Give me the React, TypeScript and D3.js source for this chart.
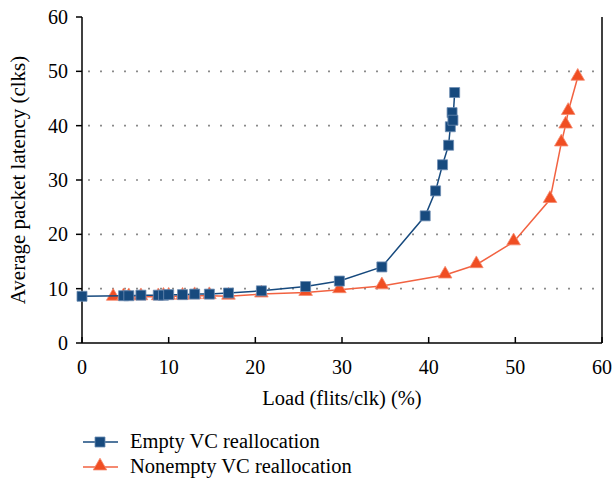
import React from "react";
import * as d3 from "d3";

// Empty VC reallocation
const emptyLoad = [0, 4.8, 5.4, 6.8, 8.8, 9.4, 10.0, 11.6, 13.0, 14.7, 16.9, 20.7, 25.8, 29.7, 34.6, 39.6, 40.8, 41.6, 42.3, 42.5, 42.7, 42.8, 43.0];
const emptyLatency = [8.6, 8.7, 8.7, 8.8, 8.8, 8.8, 8.9, 8.9, 9.0, 9.0, 9.2, 9.6, 10.4, 11.4, 14.0, 23.4, 28.0, 32.8, 36.4, 39.8, 42.4, 41.0, 46.1];

// Nonempty VC reallocation
const nonemptyLoad = [3.6, 4.8, 5.4, 6.8, 8.8, 9.4, 10.0, 11.6, 13.0, 14.7, 16.9, 20.7, 25.8, 29.7, 34.6, 41.9, 45.5, 49.8, 54.0, 55.3, 55.8, 56.1, 57.2];
const nonemptyLatency = [8.4, 8.5, 8.5, 8.5, 8.5, 8.6, 8.6, 8.6, 8.7, 8.7, 8.6, 9.0, 9.3, 9.8, 10.5, 12.5, 14.4, 18.6, 26.4, 36.8, 40.1, 42.6, 48.9];

const xTicks = [0, 10, 20, 30, 40, 50, 60];
const yTicks = [0, 10, 20, 30, 40, 50, 60];
const gridTicks = [10, 20, 30, 40, 50];

const seriesNames = ["Empty VC reallocation", "Nonempty VC reallocation"];

const BLUE = "#174a7e";
const BLUE_EDGE = "#6d8db3";
const RED = "#f04e23";
const RED_LINE = "#f26241";
const FONT = "'Liberation Serif', 'Times New Roman', serif";

const W = 613;
const H = 479;
const M = { left: 82, right: 11, top: 17, bottom: 136 };

export default function App() {
  const x = d3.scaleLinear().domain([0, 60]).range([M.left, W - M.right]);
  const y = d3.scaleLinear().domain([0, 60]).range([H - M.bottom, M.top]);

  const toPts = (xs: number[], ys: number[]) => xs.map((v, i) => [v, ys[i]] as [number, number]);
  const empty = toPts(emptyLoad, emptyLatency);
  const nonempty = toPts(nonemptyLoad, nonemptyLatency);

  const line = d3.line<[number, number]>().x((d) => x(d[0])).y((d) => y(d[1]));
  const square = d3.symbol().type(d3.symbolSquare).size(100)() as string;
  const tri = d3.symbol().type(d3.symbolTriangle).size(80)() as string;

  const x0 = x(0), x1 = x(60), yb = y(0), yt = y(60);

  return (
    <svg width={W} height={H} style={{ position: "absolute", left: 0, top: 0, background: "#fff" }} fontFamily={FONT}>
      {/* dotted grid */}
      {gridTicks.map((t) => (
        <line key={"g" + t} x1={x0 + 6} x2={x1} y1={y(t)} y2={y(t)} stroke="#8a8a8a" strokeWidth={1.6} strokeDasharray="2,10" />
      ))}

      {/* axes */}
      <line x1={x0} x2={x0} y1={yt} y2={yb} stroke="#000" strokeWidth={1.5} />
      <line x1={x1} x2={x1} y1={yt} y2={yb} stroke="#000" strokeWidth={1.5} />
      <line x1={x0} x2={x1} y1={yb} y2={yb} stroke="#000" strokeWidth={1.5} />
      {yTicks.map((t) => (
        <g key={"y" + t}>
          <line x1={x0 - 6} x2={x0} y1={y(t)} y2={y(t)} stroke="#000" strokeWidth={1.5} />
          <text x={x0 - 14} y={y(t)} dy="0.35em" textAnchor="end" fontSize={20}>{t}</text>
        </g>
      ))}
      {xTicks.map((t) => (
        <g key={"x" + t}>
          <line x1={x(t)} x2={x(t)} y1={yb} y2={yb - 6} stroke="#000" strokeWidth={1.5} />
          <text x={x(t)} y={yb + 31} textAnchor="middle" fontSize={20}>{t}</text>
        </g>
      ))}

      <text x={(x0 + x1) / 2} y={405} textAnchor="middle" fontSize={20.5}>Load (flits/clk) (%)</text>
      <text transform={`translate(25,${(yt + yb) / 2}) rotate(-90)`} textAnchor="middle" fontSize={21}>
        Average packet latency (clks)
      </text>

      {/* nonempty series */}
      <path d={line(nonempty) || ""} fill="none" stroke={RED_LINE} strokeWidth={1.5} />
      {nonempty.map((d, i) => (
        <path key={"r" + i} d={tri} transform={`translate(${x(d[0])},${y(d[1]) - 1})`} fill={RED} stroke="#f58a70" strokeWidth={0.8} />
      ))}

      {/* empty series */}
      <path d={line(empty) || ""} fill="none" stroke={BLUE} strokeWidth={1.5} />
      {empty.map((d, i) => (
        <path key={"b" + i} d={square} transform={`translate(${x(d[0])},${y(d[1])})`} fill={BLUE} stroke={BLUE_EDGE} strokeWidth={0.8} />
      ))}

      {/* legend */}
      {seriesNames.map((name, i) => {
        const ly = 442 + i * 25;
        const c = i === 0 ? BLUE : RED_LINE;
        return (
          <g key={name}>
            <line x1={83} x2={118} y1={ly} y2={ly} stroke={c} strokeWidth={1.5} />
            {i === 0 ? (
              <path d={square} transform={`translate(100,${ly})`} fill={BLUE} stroke={BLUE_EDGE} strokeWidth={0.8} />
            ) : (
              <path d={tri} transform={`translate(100,${ly - 1})`} fill={RED} stroke="#f58a70" strokeWidth={0.8} />
            )}
            <text x={130} y={ly + 6} fontSize={20.5}>{name}</text>
          </g>
        );
      })}
    </svg>
  );
}
